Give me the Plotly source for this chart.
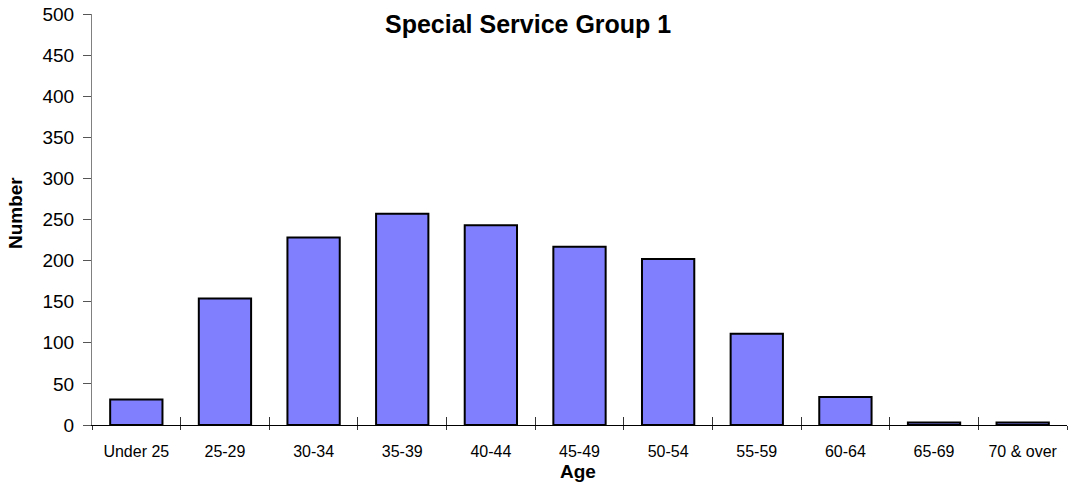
import plotly.graph_objects as go

# Age bands and head counts
age_groups = ["Under 25", "25-29", "30-34", "35-39", "40-44", "45-49",
              "50-54", "55-59", "60-64", "65-69", "70 & over"]
counts = [31, 154, 228, 257, 243, 217, 202, 111, 34, 3, 3]

y_ticks = list(range(0, 501, 50))

W, H = 1071, 487
L, R, T, B = 92, 4, 12, 62
plot_w = W - L - R
plot_h = H - T - B


def px_to_paper_x(px):
    return (px - L) / plot_w


def px_to_paper_y(py):
    return (H - B - py) / plot_h


font = "Arial, Liberation Sans, sans-serif"

fig = go.Figure()
fig.add_trace(go.Bar(
    x=age_groups,
    y=counts,
    width=0.59,
    marker=dict(color="#8080FF", line=dict(color="#000000", width=2)),
    hoverinfo="x+y",
))

fig.update_layout(
    width=W,
    height=H,
    margin=dict(l=L, r=R, t=T, b=B, pad=0),
    paper_bgcolor="white",
    plot_bgcolor="white",
    showlegend=False,
    bargap=0.41,
    xaxis=dict(
        type="category",
        categoryorder="array",
        categoryarray=age_groups,
        range=[-0.5, len(age_groups) - 0.5],
        tickson="boundaries",
        ticks="outside",
        ticklen=4,
        tickcolor="#333333",
        showline=True,
        linecolor="#000000",
        linewidth=1,
        showgrid=False,
        zeroline=False,
        tickfont=dict(family=font, size=16, color="#000000"),
        ticklabelstandoff=12,
    ),
    # overlay axis that draws the upward half of the category boundary ticks
    xaxis2=dict(
        overlaying="x",
        range=[-0.5, len(age_groups) - 0.5],
        tick0=-0.5,
        dtick=1,
        ticks="inside",
        ticklen=8,
        tickcolor="#333333",
        showticklabels=False,
        showline=False,
        showgrid=False,
        zeroline=False,
    ),
    yaxis=dict(
        range=[0, 500],
        tickvals=y_ticks,
        ticks="outside",
        ticklen=8,
        tickcolor="#555555",
        showline=True,
        linecolor="#808080",
        linewidth=1,
        showgrid=False,
        zeroline=False,
        tickfont=dict(family=font, size=19, color="#000000"),
        ticklabelstandoff=5,
    ),
    annotations=[
        dict(text="<b>Special Service Group 1</b>", xref="paper", yref="paper",
             x=px_to_paper_x(528), y=px_to_paper_y(22), xanchor="center",
             yanchor="middle", showarrow=False,
             font=dict(family=font, size=25, color="#000000")),
        dict(text="<b>Number</b>", xref="paper", yref="paper",
             x=px_to_paper_x(15), y=px_to_paper_y(212), xanchor="center",
             yanchor="middle", textangle=-90, showarrow=False,
             font=dict(family=font, size=19, color="#000000")),
        dict(text="<b>Age</b>", xref="paper", yref="paper",
             x=px_to_paper_x(578), y=px_to_paper_y(472), xanchor="center",
             yanchor="middle", showarrow=False,
             font=dict(family=font, size=19, color="#000000")),
    ],
)

# invisible trace so the overlay axis is drawn
fig.add_trace(go.Scatter(x=[0], y=[0], xaxis="x2", mode="markers",
                         marker=dict(opacity=0), hoverinfo="skip"))

fig.write_html("out.html")
